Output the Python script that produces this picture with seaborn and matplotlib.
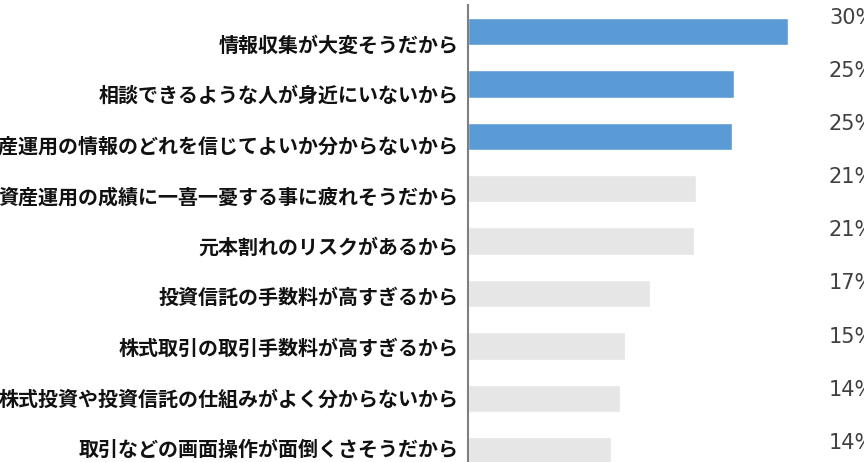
import numpy as np
import pandas as pd
import matplotlib
matplotlib.use("Agg")
import matplotlib.pyplot as plt
import seaborn as sns

# ---- data ----
categories = [
    "情報収集が大変そうだから",
    "相談できるような人が身近にいないから",
    "資産運用の情報のどれを信じてよいか分からないから",
    "資産運用の成績に一喜一憂する事に疲れそうだから",
    "元本割れのリスクがあるから",
    "投資信託の手数料が高すぎるから",
    "株式取引の取引手数料が高すぎるから",
    "株式投資や投資信託の仕組みがよく分からないから",
    "取引などの画面操作が面倒くさそうだから",
]
values = [30.2, 25.1, 24.9, 21.5, 21.3, 17.2, 14.8, 14.3, 13.5]
value_labels = ["30%", "25%", "25%", "21%", "21%", "17%", "15%", "14%", "14%"]
highlight = [True, True, True, False, False, False, False, False, False]

BLUE = "#5B9BD5"
GRAY = "#E7E6E6"

sns.set_theme(style="white")
plt.rcParams['font.family'] = ['Noto Sans CJK JP', 'DejaVu Sans']

df = pd.DataFrame({"cat": categories, "val": values})
colors = [BLUE if h else GRAY for h in highlight]

fig = plt.figure(figsize=(8.64, 4.62), dpi=100)
ax = fig.add_axes([468 / 864, 0.0, 1 - 468 / 864, 457 / 462])

sns.barplot(data=df, x="val", y="cat", hue="cat", palette=colors,
            legend=False, orient="h", width=0.52, ax=ax, saturation=1)

ax.set_xlim(0, (864 - 468) / 10.6)
ax.set_ylim((462 - 31.5) / 52.4, -0.506)

for s in ["top", "right", "bottom"]:
    ax.spines[s].set_visible(False)
ax.spines["left"].set_color("#7f7f7f")
ax.spines["left"].set_linewidth(1.5)
ax.set_xticks([])
ax.set_xlabel("")
ax.set_ylabel("")

label_pos = np.linspace(0.22, 7.94, len(categories))
ax.set_yticks(label_pos)
ax.set_yticklabels(categories, fontsize=14.4, fontweight="bold", color="#111111",
                   family=['Noto Sans CJK JP', 'DejaVu Sans'])
ax.tick_params(axis="y", length=0, pad=7)

val_pos = np.linspace(-0.26, 7.85, len(values))
xtext = (829 - 468) / 10.6
for yy, lab in zip(val_pos, value_labels):
    ax.text(xtext, yy, lab, ha="left", va="center", fontsize=15,
            color="#404040", family=['DejaVu Sans'], clip_on=False)

fig.savefig("out.png", dpi=100)
